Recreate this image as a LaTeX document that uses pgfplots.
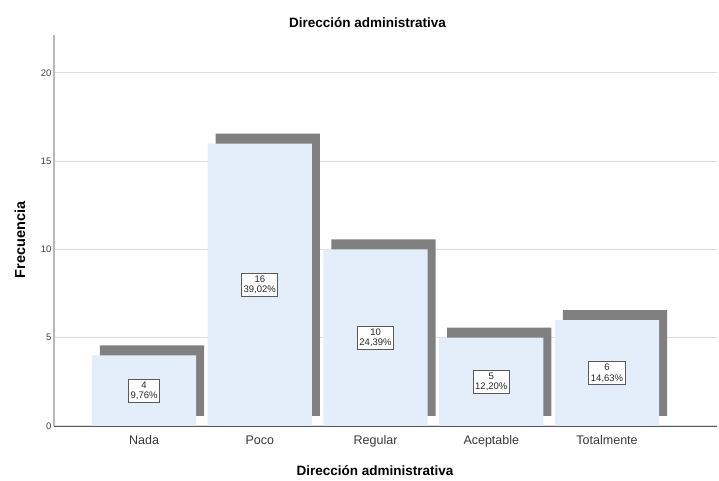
\documentclass[border=0pt]{standalone}
\usepackage{pgfplots}
\pgfplotsset{compat=1.18}
\usepackage{pgfplotstable}
\usepackage{fontspec}
\setmainfont{Liberation Sans}
\definecolor{barfill}{RGB}{227,238,250}
\definecolor{shadow}{RGB}{128,128,128}
\definecolor{gridc}{RGB}{221,221,221}
\pgfplotstableread{
x v half pct
0 4 2 9,76
1 16 8 39,02
2 10 5 24,39
3 5 2.5 12,20
4 6 3 14,63
}\datatable
\begin{document}
\begin{tikzpicture}
\path[use as bounding box] (-54pt,-55pt) rectangle (665pt,426pt);
\begin{axis}[
  scale only axis,
  width=663pt, height=391pt,
  xmin=-0.778, xmax=4.95,
  ymin=0, ymax=22.15,
  axis x line*=bottom, axis y line*=left,
  x axis line style={draw=black!65, line width=0.9pt, -},
  y axis line style={draw=black!28, line width=1.5pt, -},
  xtick={0,1,2,3,4},
  xticklabels={Nada,Poco,Regular,Aceptable,Totalmente},
  xtick style={draw=none},
  ytick={0,5,10,15,20},
  ytick style={draw=none},
  ymajorgrids,
  grid style={gridc, line width=1pt},
  x tick label style={font=\fontsize{12.5}{14}\selectfont, text=black!78, text height=1.6ex, text depth=0.3ex, yshift=-7pt},
  y tick label style={font=\fontsize{9.5}{11}\selectfont, text=black!75, xshift=1pt},
  /pgf/number format/assume math mode=true,
]
\addplot[ybar, bar shift=0pt, bar width=0.9, fill=shadow, draw=none, xshift=8pt, yshift=10pt] table[x=x,y=v] {\datatable};
\addplot[ybar, bar shift=0pt, bar width=0.9, fill=barfill, draw=none] table[x=x,y=v] {\datatable};
\addplot[only marks, mark=none,
  point meta=explicit symbolic,
  visualization depends on={\thisrow{v} \as \val},
  nodes near coords={\pgfmathprintnumber[assume math mode=true]{\val}\\\pgfplotspointmeta\%},
  every node near coord/.append style={anchor=center, align=center, fill=white, draw=black!65, line width=0.9pt, inner xsep=2pt, inner ysep=2.5pt, font=\fontsize{9.5}{10.5}\selectfont, text=black!85},
] table[x=x,y=half,meta=pct] {\datatable};
\end{axis}
\node[font=\bfseries\fontsize{13.5}{15}\selectfont] at (313.5pt,403pt) {Dirección administrativa};
\node[font=\bfseries\fontsize{13.5}{15}\selectfont] at (321pt,-45pt) {Dirección administrativa};
\node[font=\bfseries\fontsize{14.5}{16}\selectfont, rotate=90] at (-34pt,186pt) {Frecuencia};
\end{tikzpicture}
\end{document}
